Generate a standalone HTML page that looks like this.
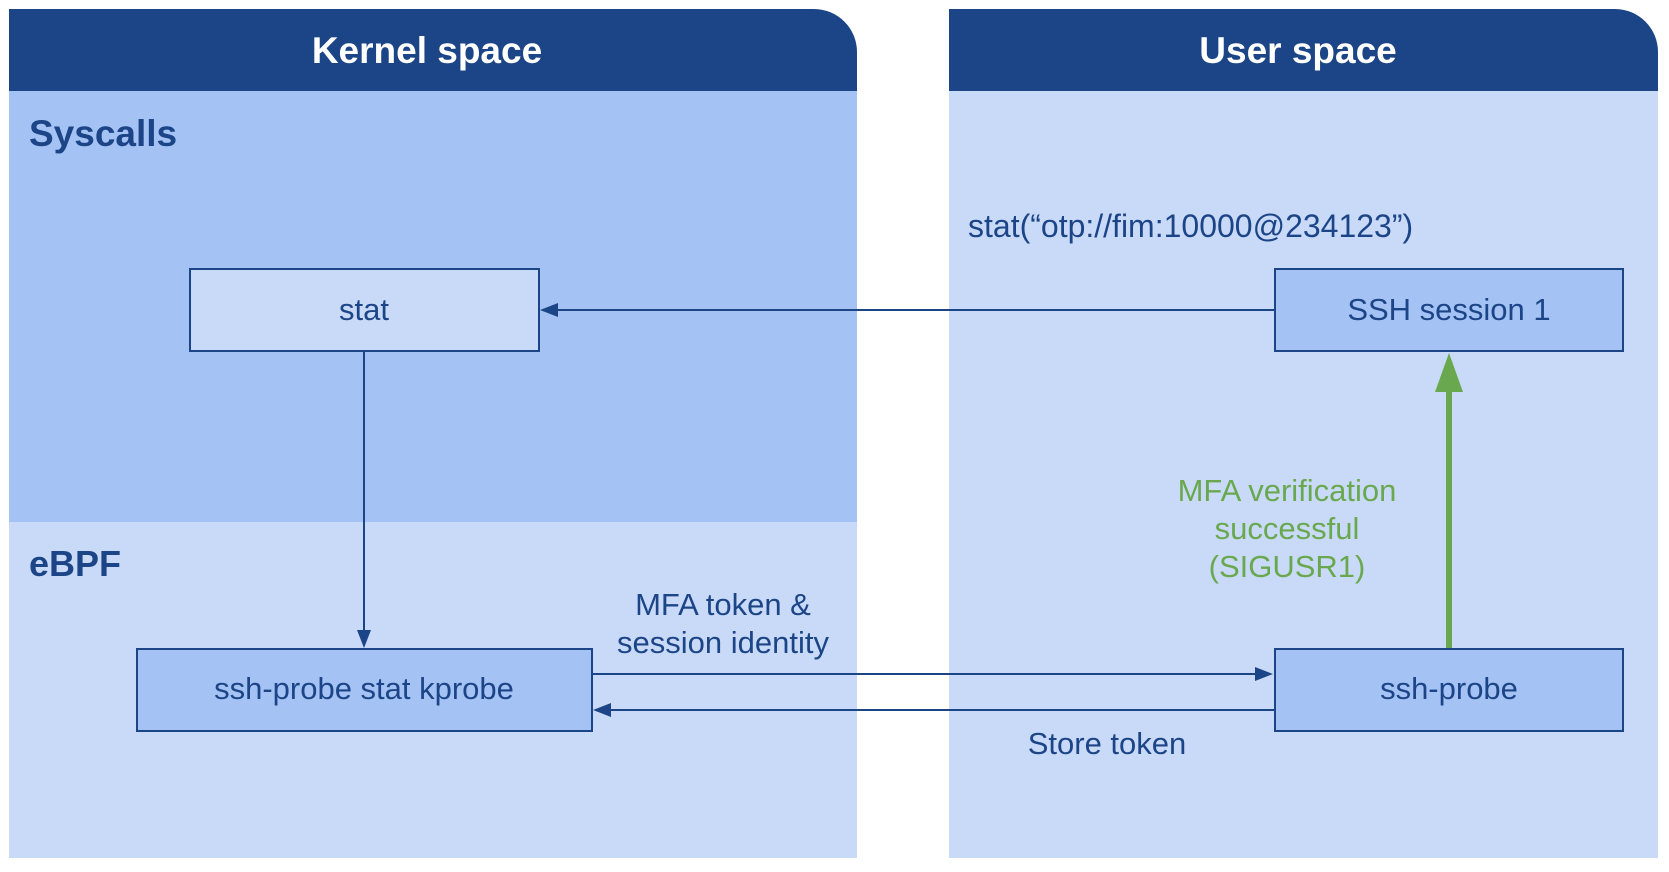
<!DOCTYPE html>
<html><head><meta charset="utf-8"><style>
html,body{margin:0;padding:0;background:#fff;}
svg{display:block}
text{font-family:"Liberation Sans",Arial,sans-serif;}
</style></head><body>
<svg width="1669" height="872" viewBox="0 0 1669 872" xmlns="http://www.w3.org/2000/svg">
<rect x="9" y="91" width="848" height="431" fill="#a4c2f4"/>
<rect x="9" y="522" width="848" height="336" fill="#c9daf8"/>
<path d="M9 9 H814 A43 43 0 0 1 857 52 V91 H9 Z" fill="#1c4587"/>
<rect x="949" y="91" width="709" height="767" fill="#c9daf8"/>
<path d="M949 9 H1615 A43 43 0 0 1 1658 52 V91 H949 Z" fill="#1c4587"/>

<text x="427" y="63" font-size="37" font-weight="bold" fill="#fff" text-anchor="middle">Kernel space</text>
<text x="1298" y="63" font-size="37" font-weight="bold" fill="#fff" text-anchor="middle">User space</text>
<text x="29" y="146" font-size="37" font-weight="bold" fill="#1c4587">Syscalls</text>
<text x="29" y="576" font-size="36" font-weight="bold" fill="#1c4587">eBPF</text>

<rect x="190" y="269" width="349" height="82" fill="#c9daf8" stroke="#1c4587" stroke-width="2"/>
<rect x="1275" y="269" width="348" height="82" fill="#a4c2f4" stroke="#1c4587" stroke-width="2"/>
<rect x="137" y="649" width="455" height="82" fill="#a4c2f4" stroke="#1c4587" stroke-width="2"/>
<rect x="1275" y="649" width="348" height="82" fill="#a4c2f4" stroke="#1c4587" stroke-width="2"/>

<g font-size="31" fill="#1c4587" text-anchor="middle">
<text x="364" y="320">stat</text>
<text x="1449" y="320">SSH session 1</text>
<text x="364" y="699">ssh-probe stat kprobe</text>
<text x="1449" y="699">ssh-probe</text>
<text x="968" y="237" text-anchor="start" font-size="32">stat(“otp://fim:10000@234123”)</text>
<text x="723" y="615">MFA token &amp;</text>
<text x="723" y="653">session identity</text>
<text x="1107" y="754">Store token</text>
</g>
<g font-size="31" fill="#6aa84f" text-anchor="middle">
<text x="1287" y="501">MFA verification</text>
<text x="1287" y="539">successful</text>
<text x="1287" y="577">(SIGUSR1)</text>
</g>

<g stroke="#1c4587" stroke-width="2" fill="none">
<line x1="1275" y1="310" x2="555" y2="310"/>
<line x1="364" y1="351" x2="364" y2="632"/>
<line x1="592" y1="674" x2="1255" y2="674"/>
<line x1="1275" y1="710" x2="608" y2="710"/>
</g>
<g fill="#1c4587">
<polygon points="540,310 558,303 558,317"/>
<polygon points="364,648 357,630 371,630"/>
<polygon points="1273,674 1255,667 1255,681"/>
<polygon points="593,710 611,703 611,717"/>
</g>
<line x1="1449" y1="648" x2="1449" y2="390" stroke="#6aa84f" stroke-width="6"/>
<polygon points="1449,353 1463,392 1435,392" fill="#6aa84f"/>
</svg>
</body></html>
